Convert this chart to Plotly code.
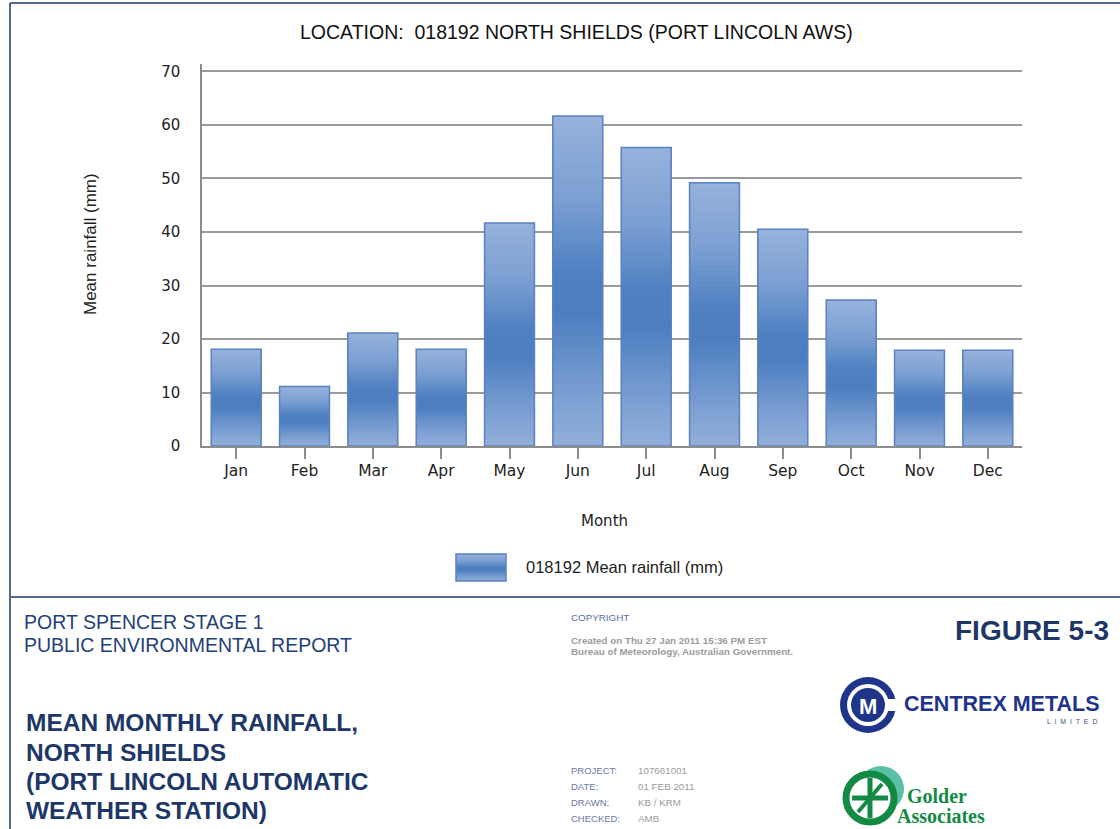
import plotly.graph_objects as go

# ---- data -------------------------------------------------------------
months = ["Jan", "Feb", "Mar", "Apr", "May", "Jun",
          "Jul", "Aug", "Sep", "Oct", "Nov", "Dec"]
rainfall_mm = [18.1, 11.1, 21.1, 18.1, 41.7, 61.7,
               55.8, 49.2, 40.5, 27.3, 17.9, 17.9]
y_ticks = [0, 10, 20, 30, 40, 50, 60, 70]
series_name = "018192 Mean rainfall (mm)"

# ---- page geometry (pixels) --------------------------------------------
W, H = 1120, 829
PL, PR, PT, PB = 202, 1022, 64, 446        # plot area edges


def px(x):
    return (x - PL) / (PR - PL)


def py(y):
    return (PB - y) / (PB - PT)


# vertical colour profile of the bars: (fraction from bottom, rgb)
stops = [(0.00, (146, 175, 217)),
         (0.15, (124, 159, 210)),
         (0.40, (76, 126, 192)),
         (0.52, (78, 128, 194)),
         (0.75, (124, 159, 210)),
         (1.00, (150, 178, 220))]


def colour_at(f):
    for (f0, c0), (f1, c1) in zip(stops[:-1], stops[1:]):
        if f0 <= f <= f1:
            t = (f - f0) / (f1 - f0) if f1 > f0 else 0
            r, g, b = (round(a + (b_ - a) * t) for a, b_ in zip(c0, c1))
            return f"rgb({r},{g},{b})"
    return f"rgb{stops[-1][1]}"


fig = go.Figure()

# gradient fill: each layer covers from k/N of the bar height to its top,
# later layers overdraw the earlier ones, leaving horizontal bands
N = 48
for k in range(N):
    f = k / N
    fig.add_trace(go.Bar(
        x=months,
        y=[v * (1 - f) for v in rainfall_mm],
        base=[v * f for v in rainfall_mm],
        marker=dict(color=colour_at((k + 0.5) / N), line=dict(width=0)),
        showlegend=False, hoverinfo="skip",
    ))

# bar outlines
fig.add_trace(go.Bar(
    x=months, y=rainfall_mm, base=[0] * len(months), name=series_name,
    marker=dict(color="rgba(0,0,0,0)", line=dict(color="#5a82bf", width=1.5)),
    showlegend=False,
))

fig.update_layout(
    width=W, height=H,
    margin=dict(l=PL, r=W - PR, t=PT, b=H - PB, pad=0),
    paper_bgcolor="white", plot_bgcolor="white",
    barmode="overlay", bargap=0.27,
    showlegend=False,
    font=dict(family="Liberation Sans, Arial, sans-serif", color="#222"),
)

fig.update_xaxes(
    type="category", showgrid=False,
    showline=True, linecolor="#8c8c8c", linewidth=1.5,
    ticks="outside", ticklen=11, tickcolor="#8c8c8c", tickwidth=1.5,
    tickfont=dict(size=15.5, color="#222", family="DejaVu Sans, sans-serif"),
    ticklabelstandoff=-1,
)
fig.update_yaxes(
    range=[0, 71.4], tickvals=y_ticks,
    showgrid=True, gridcolor="#9a9a9a", gridwidth=1.5,
    showline=True, linecolor="#8c8c8c", linewidth=1.5,
    zeroline=False, ticks="",
    tickfont=dict(size=15, color="#222", family="DejaVu Sans, sans-serif"),
    ticklabelstandoff=17,
)

shapes = []
ann = []

# outer frame and footer separator
frame = "#56698f"
shapes += [
    dict(type="line", xref="paper", yref="paper", x0=px(10), x1=px(W), y0=py(3), y1=py(3),
         line=dict(color=frame, width=2)),
    dict(type="line", xref="paper", yref="paper", x0=px(10), x1=px(10), y0=py(3), y1=py(H),
         line=dict(color=frame, width=2)),
    dict(type="line", xref="paper", yref="paper", x0=px(10), x1=px(W), y0=py(597), y1=py(597),
         line=dict(color=frame, width=2)),
]


def text(x, y, s, size, color="#222", xanchor="left", bold=False, family=None, angle=0):
    f = dict(size=size, color=color)
    if family:
        f["family"] = family
    ann.append(dict(xref="paper", yref="paper", x=px(x), y=py(y), text=f"<b>{s}</b>" if bold else s,
                    showarrow=False, xanchor=xanchor, yanchor="middle", font=f, textangle=angle))


# chart title and axis titles
text(576, 32, "LOCATION:  018192 NORTH SHIELDS (PORT LINCOLN AWS)", 19.5, "#111", "center")
text(604, 521, "Month", 15, "#222", "center", family="DejaVu Sans, sans-serif")
text(90, 244, "Mean rainfall (mm)", 17, "#222", "center", angle=-90)

# legend: gradient swatch + label (bands overlap downward to avoid seams)
lx0, lx1, ly0, ly1 = 456, 506, 554, 581
bands = 20
for i in range(bands):
    y_low = ly1 - (ly1 - ly0) * i / bands
    shapes.append(dict(type="rect", xref="paper", yref="paper", x0=px(lx0), x1=px(lx1),
                       y0=py(y_low), y1=py(ly0), line=dict(width=0),
                       fillcolor=colour_at((i + 0.5) / bands)))
shapes.append(dict(type="rect", xref="paper", yref="paper", x0=px(lx0), x1=px(lx1),
                   y0=py(ly0), y1=py(ly1), line=dict(color="#5a82bf", width=1.5)))
text(524, 567, series_name, 16.5, "#222")

# footer: report titles
navy = "#233f78"
text(22, 622, "PORT SPENCER STAGE 1", 19.5, navy)
text(22, 645, "PUBLIC ENVIRONMENTAL REPORT", 19.5, navy)
for i, line in enumerate(["MEAN MONTHLY RAINFALL,", "NORTH SHIELDS",
                          "(PORT LINCOLN AUTOMATIC", "WEATHER STATION)"]):
    text(24, 723 + i * 29, line, 24.5, "#1d3767", bold=True)
text(1111, 630, "FIGURE 5-3", 28, "#1d3767", "right", bold=True)

# footer: copyright block
text(569, 617, "COPYRIGHT", 9.8, "#5b6fa3")
text(569, 640, "<b>Created on Thu 27 Jan 2011 15:36 PM EST</b>", 9.8, "#9b9b9b")
text(569, 651, "<b>Bureau of Meteorology, Australian Government.</b>", 9.8, "#9b9b9b")

# footer: project details
for i, (k, v) in enumerate([("PROJECT:", "107661001"), ("DATE:", "01 FEB 2011"),
                            ("DRAWN:", "KB / KRM"), ("CHECKED:", "AMB")]):
    yy = 770 + i * 16
    text(569, yy, k, 9.5, "#6a7aa6")
    text(636, yy, v, 9.8, "#9b9b9b")

# Centrex Metals logo
cx, cy = 868, 705
cnavy = "#1f3589"
shapes += [
    dict(type="circle", xref="paper", yref="paper", x0=px(cx - 28), x1=px(cx + 28),
         y0=py(cy - 28), y1=py(cy + 28), fillcolor=cnavy, line=dict(width=0)),
    dict(type="circle", xref="paper", yref="paper", x0=px(cx - 21), x1=px(cx + 21),
         y0=py(cy - 21), y1=py(cy + 21), fillcolor="white", line=dict(width=0)),
    dict(type="rect", xref="paper", yref="paper", x0=px(cx + 12), x1=px(cx + 30),
         y0=py(cy - 6), y1=py(cy + 6), fillcolor="white", line=dict(width=0)),
    dict(type="circle", xref="paper", yref="paper", x0=px(cx - 17), x1=px(cx + 17),
         y0=py(cy - 17), y1=py(cy + 17), fillcolor=cnavy, line=dict(width=0)),
]
text(cx, cy + 1, "M", 22, "white", "center", bold=True)
text(902, 704, "CENTREX METALS", 21.5, cnavy, bold=True)
text(1099, 721, "L  I  M  I  T  E  D", 7, "#44508a", "right")

# Golder Associates logo
gx, gy = 872, 798
shapes += [
    dict(type="circle", xref="paper", yref="paper", x0=px(gx - 14), x1=px(gx + 32),
         y0=py(gy - 32), y1=py(gy + 14), fillcolor="#5cc0a8", line=dict(width=0)),
    dict(type="circle", xref="paper", yref="paper", x0=px(gx - 26), x1=px(gx + 22),
         y0=py(gy - 24), y1=py(gy + 24), fillcolor="white", line=dict(color="#138a44", width=7)),
    dict(type="line", xref="paper", yref="paper", x0=px(gx - 20), x1=px(gx + 16),
         y0=py(gy), y1=py(gy), line=dict(color="#138a44", width=5)),
    dict(type="line", xref="paper", yref="paper", x0=px(gx - 2), x1=px(gx - 2),
         y0=py(gy - 20), y1=py(gy + 20), line=dict(color="#138a44", width=5)),
    dict(type="line", xref="paper", yref="paper", x0=px(gx - 14), x1=px(gx + 10),
         y0=py(gy + 14), y1=py(gy - 14), line=dict(color="#138a44", width=4)),
]
text(905, 796, "Golder", 20, "#138a44", bold=True,
     family="Liberation Serif, Times New Roman, serif")
text(895, 816, "Associates", 20, "#138a44", bold=True,
     family="Liberation Serif, Times New Roman, serif")

fig.update_layout(shapes=shapes, annotations=ann)
fig.write_html("out.html")
